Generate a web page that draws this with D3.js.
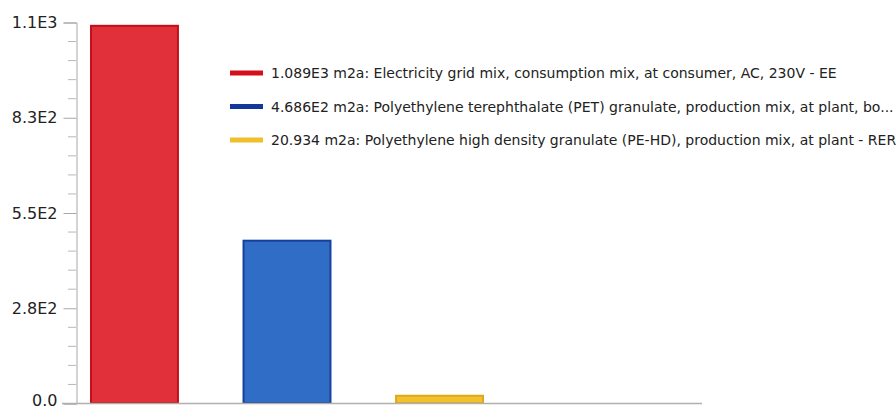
<!DOCTYPE html>
<html>
<head>
<meta charset="utf-8">
<script src="https://cdn.jsdelivr.net/npm/d3@7"></script>
<style>
  body { margin: 0; background: #fff; }
</style>
</head>
<body>
<div id="canvas"></div>
<script>
"use strict"

/* Data */
let processes = [
  "Electricity grid mix, consumption mix, at consumer, AC, 230V - EE",
  "Polyethylene terephthalate (PET) granulate, production mix, at plant, bo...",
  "Polyethylene high density granulate (PE-HD), production mix, at plant - RER"
];
let amounts = [1089, 468.6, 20.934];
let amountLabels = ["1.089E3", "4.686E2", "20.934"];
let unit = "m2a";
let tickValues = [0, 275, 550, 825, 1100];
let tickLabels = ["0.0", "2.8E2", "5.5E2", "8.3E2", "1.1E3"];

/* Drawing config */
let svgWidth = 896;
let svgHeight = 410;
let axisX = 76;
let axisBottom = 403;
let axisTop = 22;
let fillColors = ["#e2303b", "#2f6dc6", "#f1c12e"];
let edgeColors = ["#c0101c", "#17409a", "#e0a818"];
let legendColors = ["#d3101c", "#12389c", "#f0c02c"];
let fontFamily = "'DejaVu Sans', sans-serif";

let svg = d3.select("#canvas")
  .append("svg")
  .attr("width", svgWidth)
  .attr("height", svgHeight);

let yScale = d3.scaleLinear()
  .domain([0, 1100])
  .range([axisBottom, axisTop]);

let xScale = d3.scaleBand()
  .domain(d3.range(amounts.length))
  .range([91, 483])
  .paddingInner(0.43)
  .paddingOuter(0);

/* minor ticks, 5 steps between majors */
let minorTicks = d3.range(0, 1100 + 1, 55).filter(function(v){ return v % 275 !== 0; });

svg.append("g")
  .selectAll("line")
  .data(minorTicks)
  .enter()
  .append("line")
  .attr("x1", axisX - 8)
  .attr("x2", axisX)
  .attr("y1", function(d){ return yScale(d) + 0.5; })
  .attr("y2", function(d){ return yScale(d) + 0.5; })
  .attr("stroke", "#b8b8b8")
  .attr("stroke-width", 1);

/* left axis */
let yAxis = svg.append("g")
  .attr("transform", "translate(" + (axisX + 0.5) + ",0.5)")
  .call(d3.axisLeft(yScale)
    .tickValues(tickValues)
    .tickSize(13)
    .tickPadding(6)
    .tickFormat(function(d, i){ return tickLabels[i]; }));

yAxis.select(".domain").attr("stroke", "#a8a8a8");
yAxis.selectAll(".tick line").attr("stroke", "#a8a8a8");
yAxis.selectAll(".tick text")
  .attr("fill", "#222")
  .style("font-family", fontFamily)
  .style("font-size", "16px");

// keep the 0.0 label inside the picture
yAxis.selectAll(".tick text")
  .filter(function(d){ return d === 0; })
  .attr("dy", "0.1em");

/* bars */
svg.selectAll("rect.bar")
  .data(amounts)
  .enter()
  .append("rect")
  .attr("class", "bar")
  .attr("x", function(d, i){ return xScale(i); })
  .attr("y", function(d){ return yScale(d); })
  .attr("width", xScale.bandwidth())
  .attr("height", function(d){ return axisBottom - yScale(d); })
  .attr("fill", function(d, i){ return fillColors[i]; })
  .attr("stroke", function(d, i){ return edgeColors[i]; })
  .attr("stroke-width", 2);

/* bottom line */
svg.append("line")
  .attr("x1", 62)
  .attr("x2", 702)
  .attr("y1", axisBottom + 0.5)
  .attr("y2", axisBottom + 0.5)
  .attr("stroke", "#b0b0b0")
  .attr("stroke-width", 1.5);

/* legend */
let legendX = 230;
let legendY = 73;
let legendStep = 33.5;

for (let i = 0; i < processes.length; i = i + 1) {
  svg.append("rect")
    .attr("x", legendX)
    .attr("y", legendY + i * legendStep - 2.5)
    .attr("width", 33)
    .attr("height", 5)
    .attr("fill", legendColors[i]);

  svg.append("text")
    .attr("x", legendX + 41)
    .attr("y", legendY + i * legendStep + 5)
    .style("font-family", fontFamily)
    .style("font-size", "14px")
    .attr("fill", "#222")
    .text(amountLabels[i] + " " + unit + ": " + processes[i]);
}
</script>
</body>
</html>
